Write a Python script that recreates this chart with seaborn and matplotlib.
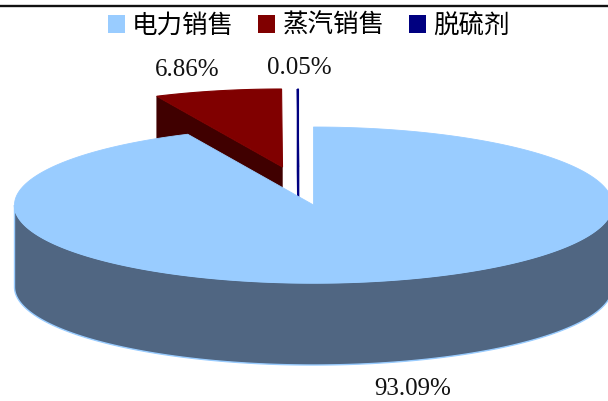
import numpy as np
import matplotlib
matplotlib.use("Agg")
import matplotlib.pyplot as plt
from matplotlib.patches import Polygon, Patch
import seaborn as sns

categories = ["电力销售", "蒸汽销售", "脱硫剂"]
values = [93.09, 6.86, 0.05]
value_labels = ["93.09%", "6.86%", "0.05%"]

TOP = ["#99CCFF", "#800000", "#000080"]
WALL = ["#506682", "#400000", "#000080"]
CJK = ["Noto Sans CJK SC", "DejaVu Sans"]
# pixel-space pie geometry: centre, radii, thickness, per-slice shift
CX, CY, RX, RY, DEPTH = 313.5, 205.0, 299.0, 78.0, 82.0
SHIFT = [(0.0, 0.0), (-31.0, -38.0), (-15.0, -38.0)]

sns.set_theme(style="white")
fig = plt.figure(figsize=(6.08, 4.01), dpi=100, facecolor="white")
ax = fig.add_axes([0, 0, 1, 1])
ax.set_xlim(0, 608)
ax.set_ylim(401, 0)
ax.axis("off")


def rim(a0, a1, dx, dy, depth=0.0):
    t = np.linspace(a0, a1, max(2, int(abs(a1 - a0) * 2) + 2))
    r = np.radians(t)
    return np.column_stack([CX + dx + RX * np.sin(r), CY + dy + depth - RY * np.cos(r)])


# slice angles run clockwise from twelve o'clock
edges = np.concatenate([[0.0], np.cumsum(values) / np.sum(values) * 360.0])

# exploded small slices first: the main slice covers their lower part
for i, wall_lw in ((1, 0.3), (2, 1.2)):
    a0, a1 = edges[i], edges[i + 1]
    dx, dy = SHIFT[i]
    apex = np.array([[CX + dx, CY + dy]])
    far = rim(a0, a0, dx, dy)[:1]
    down = np.array([0.0, DEPTH])
    ax.add_patch(Polygon(np.vstack([apex, far, far + down, apex + down]),
                         closed=True, fc=WALL[i], ec=WALL[i], lw=wall_lw, zorder=2))
    ax.add_patch(Polygon(np.vstack([apex, rim(a0, a1, dx, dy)]), closed=True,
                         fc=TOP[i], ec=TOP[i], lw=0.8, zorder=3))

# main slice: outer wall, then top face
a0, a1 = edges[0], edges[1]
front = rim(90.0, 270.0, 0, 0)
ax.add_patch(Polygon(np.vstack([front, rim(270.0, 90.0, 0, 0, DEPTH)]), closed=True,
                     fc=WALL[0], ec=TOP[0], lw=1.0, zorder=4))
ax.add_patch(Polygon(np.vstack([[[CX, CY]], rim(a0, a1, 0, 0)]), closed=True,
                     fc=TOP[0], ec=TOP[0], lw=0.6, zorder=5))

ax.plot([0, 608], [6.2, 6.2], color="#111111", lw=1.7, zorder=6, solid_capstyle="butt")

# value labels
ax.text(413, 389, value_labels[0], family="Liberation Serif", fontsize=18,
        color="#111111", ha="center", va="center")
ax.text(187.5, 70, value_labels[1], family="Liberation Serif", fontsize=18,
        color="#111111", ha="center", va="center")
ax.text(299.5, 67.5, value_labels[2], family="Liberation Serif", fontsize=18,
        color="#111111", ha="center", va="center")

handles = [Patch(fc=c, ec="none", label=n) for c, n in zip(TOP, categories)]
ax.legend(handles=handles, ncol=3, loc="center", bbox_to_anchor=(308.5 / 608, 1 - 26 / 401),
          frameon=False, labelcolor="black", prop={"family": CJK, "size": 18.4, "weight": "light"},
          handlelength=0.68, handleheight=0.68, handletextpad=0.27,
          columnspacing=0.95, borderpad=0, borderaxespad=0)

fig.savefig("out.png", dpi=100, facecolor="white")
